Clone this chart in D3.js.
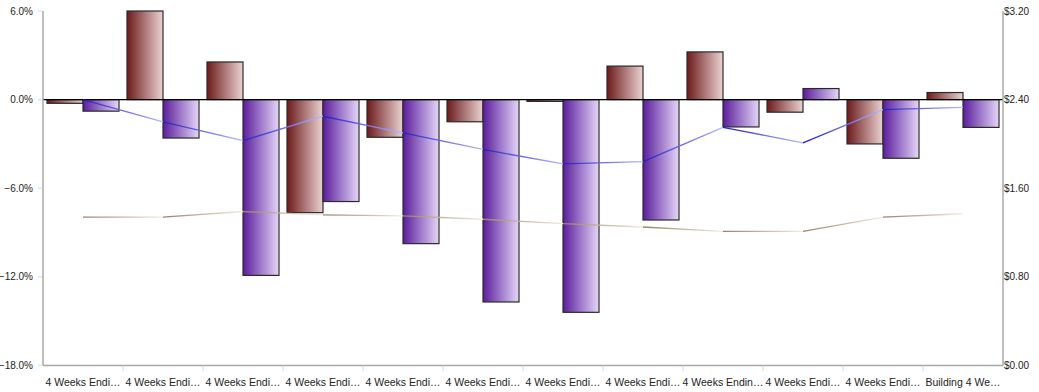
<!DOCTYPE html>
<html>
<head>
<meta charset="utf-8">
<script src="https://cdn.jsdelivr.net/npm/d3@7"></script>
<style>
  html, body { margin: 0; padding: 0; background: #fff; }
  svg { display: block; font-family: "Liberation Sans", Arial, sans-serif; }
</style>
</head>
<body>
<svg id="chart" width="1039" height="392"></svg>
<script>
const categories = [
  "4 Weeks Endi…", "4 Weeks Endi…", "4 Weeks Endi…", "4 Weeks Endi…",
  "4 Weeks Endi…", "4 Weeks Endi…", "4 Weeks Endi…", "4 Weeks Endi…",
  "4 Weeks Endin…", "4 Weeks Endi…", "4 Weeks Endi…", "Building 4 We…"
];
const seriesA = [-0.25, 6.0, 2.55, -7.65, -2.55, -1.5, -0.12, 2.27, 3.23, -0.85, -3.0, 0.48];
const seriesB = [-0.78, -2.6, -11.9, -6.9, -9.75, -13.7, -14.4, -8.15, -1.85, 0.75, -3.97, -1.88];
const priceBlue = [2.40, 2.20, 2.03, 2.25, 2.10, 1.95, 1.82, 1.84, 2.15, 2.01, 2.31, 2.33];
const priceTan = [1.34, 1.34, 1.39, 1.36, 1.35, 1.32, 1.28, 1.25, 1.21, 1.21, 1.34, 1.37];
const leftTicks = [6, 0, -6, -12, -18];
const rightTicks = [0, 0.8, 1.6, 2.4, 3.2];

const svg = d3.select("#chart");
const L = 43, R = 1003, T = 11, B = 365.5;

const x0 = d3.scaleBand().domain(d3.range(categories.length)).range([L, R])
  .paddingInner(0.1).paddingOuter(0.05);
const x1 = d3.scaleBand().domain([0, 1]).range([0, x0.bandwidth()]);
const xc = d3.scaleBand().domain(d3.range(categories.length)).range([L, R]);
const yL = d3.scaleLinear().domain([-18, 6]).range([B, T]);
const yR = d3.scaleLinear().domain([0, 3.2]).range([B, T]);

const defs = svg.append("defs");
function hGrad(id, c0, c1) {
  const g = defs.append("linearGradient").attr("id", id)
    .attr("x1", "0").attr("y1", "0").attr("x2", "1").attr("y2", "0");
  g.append("stop").attr("offset", "0").attr("stop-color", c0);
  g.append("stop").attr("offset", "1").attr("stop-color", c1);
}
hGrad("gA", "#6c1b1c", "#ecd2d2");
hGrad("gB", "#5a1d9c", "#e4d6f8");

// bars
const seriesList = [seriesA, seriesB];
seriesList.forEach((vals, si) => {
  svg.append("g").selectAll("rect").data(vals).join("rect")
    .attr("x", (d, i) => x0(i) + x1(si))
    .attr("width", x1.bandwidth())
    .attr("y", d => yL(Math.max(0, d)))
    .attr("height", d => Math.max(1, Math.abs(yL(d) - yL(0))))
    .attr("fill", si === 0 ? "url(#gA)" : "url(#gB)")
    .attr("stroke", "#2a2a2a")
    .attr("stroke-width", 1.2);
});

// zero line
svg.append("line")
  .attr("x1", L).attr("x2", R).attr("y1", yL(0)).attr("y2", yL(0))
  .attr("stroke", "#000").attr("stroke-width", 1.3);

// lines with per-segment gradients
function gradLine(vals, cStart, cEnd, prefix) {
  const pts = vals.map((v, i) => [xc(i) + xc.bandwidth() / 2, yR(v)]);
  const g = svg.append("g");
  for (let i = 0; i < pts.length - 1; i++) {
    const id = prefix + i;
    const lg = defs.append("linearGradient").attr("id", id)
      .attr("gradientUnits", "userSpaceOnUse")
      .attr("x1", pts[i][0]).attr("y1", pts[i][1])
      .attr("x2", pts[i + 1][0]).attr("y2", pts[i + 1][1]);
    lg.append("stop").attr("offset", "0").attr("stop-color", cStart);
    lg.append("stop").attr("offset", "1").attr("stop-color", cEnd);
    g.append("path")
      .attr("d", d3.line()([pts[i], pts[i + 1]]))
      .attr("fill", "none")
      .attr("stroke", `url(#${id})`)
      .attr("stroke-width", 1.3);
  }
}
gradLine(priceTan, "#9a8264", "#f2ede3", "gt");
gradLine(priceBlue, "#1c1cc8", "#b8b8ff", "gb");

// axes
const axisColor = "#a8a8a8";
const tickColor = "#dde5f2";
const textColor = "#222";

// left axis
svg.append("line").attr("x1", L).attr("x2", L).attr("y1", T).attr("y2", B)
  .attr("stroke", axisColor).attr("stroke-width", 1.5);
const gl = svg.append("g");
gl.selectAll("line").data(leftTicks).join("line")
  .attr("x1", L - 5).attr("x2", L - 1).attr("y1", d => yL(d)).attr("y2", d => yL(d))
  .attr("stroke", tickColor).attr("stroke-width", 1.5);
gl.selectAll("text").data(leftTicks).join("text")
  .attr("x", 33).attr("y", d => yL(d)).attr("dy", "0.35em")
  .attr("text-anchor", "end").attr("font-size", 10).attr("fill", textColor)
  .text(d => d3.format(".1f")(d) + "%");

// right axis
svg.append("line").attr("x1", R).attr("x2", R).attr("y1", T).attr("y2", B)
  .attr("stroke", axisColor).attr("stroke-width", 1.5);
svg.append("g").selectAll("text").data(rightTicks).join("text")
  .attr("x", R + 1).attr("y", d => yR(d)).attr("dy", "0.35em")
  .attr("text-anchor", "start").attr("font-size", 10).attr("fill", textColor)
  .text(d => "$" + d3.format(".2f")(d));

// bottom axis
svg.append("line").attr("x1", L).attr("x2", R).attr("y1", B).attr("y2", B)
  .attr("stroke", axisColor).attr("stroke-width", 1.5);
const gb = svg.append("g");
gb.selectAll("line").data(d3.range(1, categories.length)).join("line")
  .attr("x1", d => xc(d)).attr("x2", d => xc(d))
  .attr("y1", B + 1).attr("y2", B + 6)
  .attr("stroke", tickColor).attr("stroke-width", 1.5);
gb.selectAll("text").data(categories).join("text")
  .attr("x", (d, i) => xc(i) + xc.bandwidth() / 2).attr("y", 386)
  .attr("text-anchor", "middle").attr("font-size", 10.5).attr("fill", textColor)
  .text(d => d);
</script>
</body>
</html>
